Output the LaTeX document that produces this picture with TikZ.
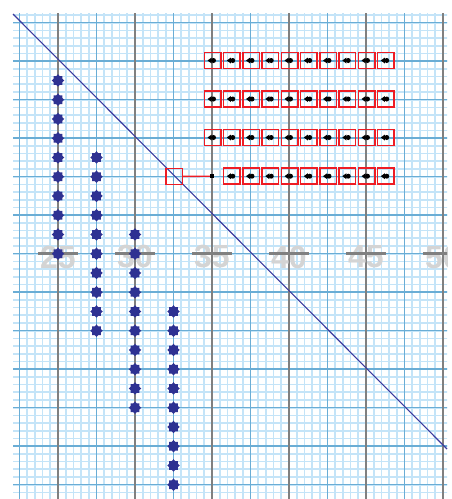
\documentclass[tikz,border=0pt]{standalone}
\usepackage{fontspec}
\setmainfont{Liberation Sans}
\usetikzlibrary{shapes.geometric}
\definecolor{finecol}{HTML}{C4E4F8}
\definecolor{majorcol}{HTML}{6AADD5}
\definecolor{axisgray}{HTML}{808080}
\definecolor{lblcol}{HTML}{D4D4D4}
\definecolor{navy}{HTML}{2E3192}
\definecolor{diagcol}{HTML}{3B3B9E}
\definecolor{bred}{HTML}{EE1C24}
\begin{document}
\begin{tikzpicture}[x=1pt,y=-1pt,
  fineline/.style={finecol, line width=1.7pt},
  majorline/.style={majorcol, line width=1.5pt},
  grayline/.style={axisgray, line width=2pt},
  ticklabel/.style={text=lblcol, font=\bfseries\fontsize{32}{32}\selectfont, inner sep=0pt},
  tickmark/.style={axisgray, line width=3pt},
  dotmark/.style={star, star points=8, star point ratio=1.35, fill=navy, draw=none, minimum size=12.5pt, inner sep=0pt},
  cell/.style={rectangle, draw=bred, line width=1.5pt, minimum width=16.5pt, minimum height=16pt, inner sep=0pt},
  joint/.style={rectangle, fill=black, minimum size=4pt, inner sep=0pt},
  glyph/.style={fill=black}
]
\fill[white] (0,0) rectangle (451,499);
\useasboundingbox (0,0) rectangle (451,499);
\begin{scope}
  \clip (13,13) rectangle (447,499);
  % fine grid
  \foreach \i in {-1,...,56} \draw[fineline] ({19.5+7.7*\i},0) -- ({19.5+7.7*\i},499);
  \foreach \j in {-2,...,62} \draw[fineline] (0,{22.7+7.7*\j}) -- (451,{22.7+7.7*\j});
  % major grid
  \foreach \i in {0,...,11} \draw[majorline] ({19.5+38.5*\i},0) -- ({19.5+38.5*\i},499);
  \foreach \j in {0,...,12} \draw[majorline] (0,{22.7+38.5*\j}) -- (451,{22.7+38.5*\j});
  % gray verticals
  \foreach \k in {0,...,5} \draw[grayline] ({58+77*\k},0) -- ({58+77*\k},499);
  % labels
  \foreach \k/\t in {0/25,1/30,2/35,3/40,4/45,5/50}
    \node[ticklabel] (lab\t) at ({58+77*\k},257) {\t};
  % ticks
  \foreach \k in {0,...,5} \draw[tickmark] ({58+77*\k-20},253.7) -- ({58+77*\k+20},253.7);
\end{scope}
% diagonal
\coordinate (d1) at (13,14);
\coordinate (d2) at (447,449);
\draw[diagcol, line width=1.1pt] (d1) -- (d2);
% dot columns
\foreach \c/\x/\y in {1/58/80.45, 2/96.5/157.45, 3/135/234.45, 4/173.5/311.45}
  \foreach \k in {0,...,9}
    \node[dotmark] (dot\c-\k) at (\x,{\y+19.25*\k}) {};
% red cells rows 1-3
\foreach \r/\y in {1/60.5, 2/99, 3/137.5}
  \foreach \k in {0,...,9} {
    \node[cell] (b\r-\k) at ({212.5+19.25*\k},\y) {};
    \fill[glyph] ([xshift=1pt]b\r-\k.center) circle (2.5pt);
    \fill[glyph] ([xshift=-5pt]b\r-\k.center) -- ++(4.2,-3) -- ++(0,6) -- cycle;
  }
% row 4
\node[cell] (s4) at (174,176.5) {};
\node[joint] (p4) at (212,176.2) {};
\draw[bred, line width=1.4pt] (s4) -- (p4);
\foreach \k in {1,...,9} {
  \node[cell] (b4-\k) at ({212.5+19.25*\k},176.2) {};
  \fill[glyph] ([xshift=1pt]b4-\k.center) circle (2.5pt);
  \fill[glyph] ([xshift=-5pt]b4-\k.center) -- ++(4.2,-3) -- ++(0,6) -- cycle;
}
\end{tikzpicture}
\end{document}
